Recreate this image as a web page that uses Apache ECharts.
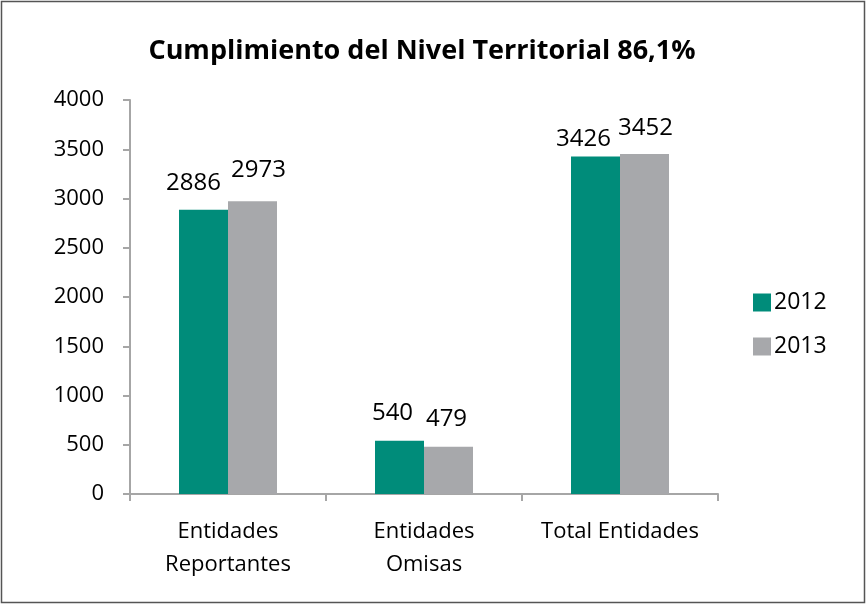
<!DOCTYPE html>
<html>
<head>
<meta charset="utf-8">
<script src="https://cdn.jsdelivr.net/npm/echarts@6/dist/echarts.min.js"></script>
<style>html,body{margin:0;padding:0;background:#fff}#c{width:866px;height:604px}</style>
</head>
<body>
<div id="c"></div>
<script>
const categories = ["Entidades\nReportantes", "Entidades\nOmisas", "Total Entidades"];
const values2012 = [2886, 540, 3426];
const values2013 = [2973, 479, 3452];
const seriesNames = ["2012", "2013"];
const titleText = "Cumplimiento del Nivel Territorial 86,1%";

// label placement tweaks (style only)
const offsets2012 = [[-10, -10], [-7, -11], [-12, 0]];
const offsets2013 = [[6, -14], [-2, -11], [1, -9]];

const chart = echarts.init(document.getElementById('c'), null, {renderer: 'canvas'});
const font = "'Open Sans', 'Noto Sans', sans-serif";
const labelCommon = {show: true, position: 'top', distance: 5, color: '#000', fontSize: 24, fontFamily: font};
function build(vals, offs) {
  return vals.map((v, i) => ({value: v, label: {offset: offs[i]}}));
}
chart.setOption({
  animation: false,
  backgroundColor: '#fff',
  graphic: [{type: 'rect', shape: {x: 1.5, y: 1.5, width: 863, height: 601}, style: {fill: 'none', stroke: '#555', lineWidth: 1.5}}],
  title: {
    text: titleText, left: 417, top: 33, textAlign: 'center',
    textStyle: {fontFamily: "'Open Sans', sans-serif", fontWeight: 'bold', fontSize: 27, color: '#000', letterSpacing: -1}
  },
  legend: {
    data: seriesNames, orient: 'vertical', left: 748, top: 286,
    itemWidth: 18, itemHeight: 18, itemGap: 21, icon: 'rect',
    textStyle: {fontSize: 23, fontFamily: font, color: '#000', padding: [0, 0, 0, -2]}
  },
  grid: {left: 130, right: 148, top: 100, bottom: 110, containLabel: false},
  xAxis: {
    type: 'category', data: categories,
    axisLine: {lineStyle: {color: '#a6a6a6', width: 2}},
    axisTick: {show: true, length: 7, lineStyle: {color: '#a6a6a6', width: 2}},
    axisLabel: {fontSize: 22, fontFamily: font, color: '#000', margin: 21, lineHeight: 33, interval: 0, letterSpacing: 1}
  },
  yAxis: {
    type: 'value', min: 0, max: 4000, interval: 500,
    axisLine: {show: true, lineStyle: {color: '#a6a6a6', width: 2}},
    axisTick: {show: true, length: 7, lineStyle: {color: '#a6a6a6', width: 2}},
    splitLine: {show: false},
    axisLabel: {fontSize: 22, fontFamily: font, color: '#000', margin: 26, formatter: v => String(v)}
  },
  series: [
    {name: seriesNames[0], type: 'bar', data: build(values2012, offsets2012), barGap: '0%', barCategoryGap: '50%',
     itemStyle: {color: '#008C7A'}, label: labelCommon},
    {name: seriesNames[1], type: 'bar', data: build(values2013, offsets2013),
     itemStyle: {color: '#A7A8AB'}, label: labelCommon}
  ]
});
</script>
</body>
</html>
